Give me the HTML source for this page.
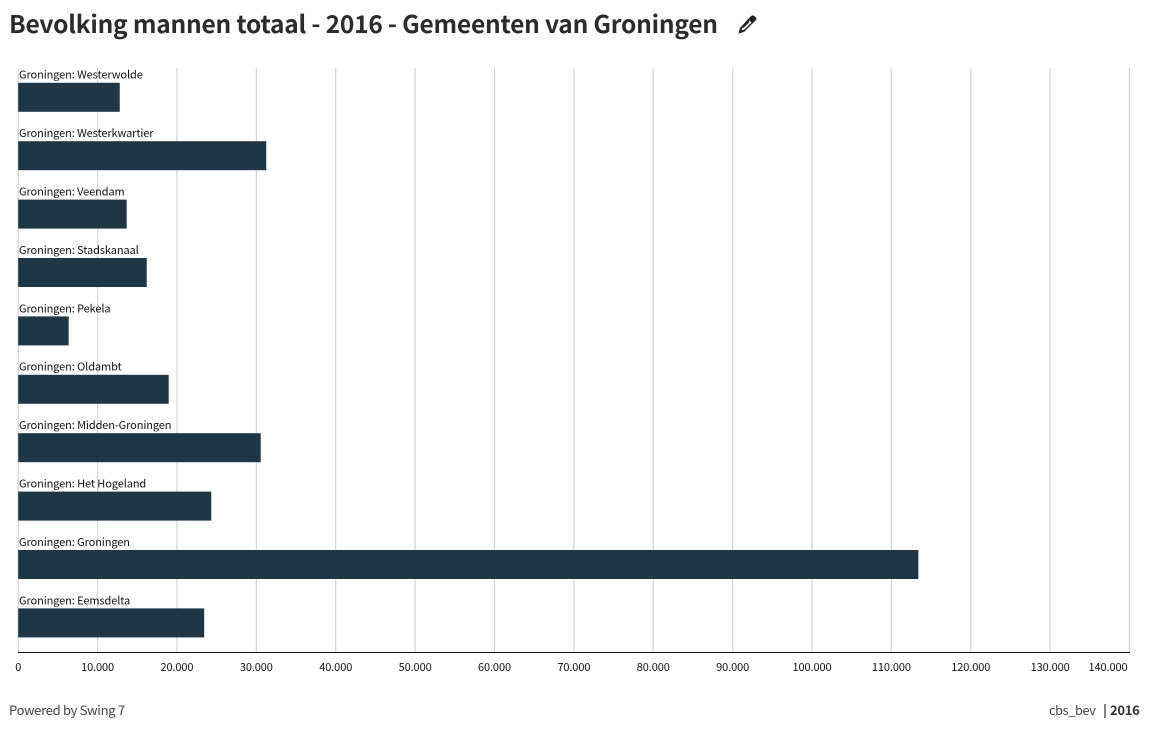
<!DOCTYPE html>
<html lang="nl">
<head>
<meta charset="utf-8">
<title>Bevolking mannen totaal - 2016 - Gemeenten van Groningen</title>
<style>
html,body{margin:0;padding:0;background:#fff;width:1173px;height:729px;overflow:hidden}
svg{display:block}
text{font-family:"Noto Sans CJK JP","Liberation Sans",sans-serif}
</style>
</head>
<body>
<svg id="chart" width="1173" height="729" viewBox="0 0 1173 729" xmlns="http://www.w3.org/2000/svg">
  <text x="9" y="33" font-size="24.5" letter-spacing="-0.21" font-weight="700" fill="#2b2b2b">Bevolking mannen totaal - 2016 - Gemeenten van Groningen</text>
  <g transform="translate(738,15)">
    <path d="M12.5 1.5 L17 6 L6 17 L0.5 18.5 L2 13 Z M11.5 5.5 L4.5 12.5 L3.5 15.5 L6.5 14.5 L13.5 7.5 Z" fill="#222" fill-rule="evenodd"/>
    <path d="M11.5 2.5 L14 0.5 Q15.5 0 17.5 2 Q19 3.5 18 5 L16 7 Z" fill="#222"/>
    <line x1="11" y1="6.5" x2="5" y2="12.5" stroke="#222" stroke-width="1.4"/>
  </g>
  <g id="grid"></g>
  <g id="bars"></g>
  <g id="labels"></g>
  <line x1="18" x2="1130" y1="652.5" y2="652.5" stroke="#111" stroke-width="1"/>
  <g id="ticks"></g>
  <text x="9" y="715" font-size="13" letter-spacing="-0.3" fill="#444">Powered by Swing 7</text>
  <text x="1049" y="715" font-size="12.8" letter-spacing="-0.4" fill="#444">cbs_bev</text>
  <line x1="1105" x2="1105" y1="704" y2="718" stroke="#2b2b2b" stroke-width="1.2"/>
  <text x="1110" y="715" font-size="13" letter-spacing="-0.3" font-weight="700" fill="#333">2016</text>
</svg>
<script>
const categories = ["Westerwolde","Westerkwartier","Veendam","Stadskanaal","Pekela","Oldambt","Midden-Groningen","Het Hogeland","Groningen","Eemsdelta"];
const values = [12790,31250,13670,16190,6360,18960,30550,24320,113400,23430];
const tickValues = [0,10000,20000,30000,40000,50000,60000,70000,80000,90000,100000,110000,120000,130000,140000];
const categoryPrefix = "Groningen: ";

const NS = "http://www.w3.org/2000/svg";
const xMax = 140000;
const plotLeft = 18.2, plotRight = 1129.5, plotTop = 68, plotBottom = 652;
const barHeight = 29;
function xScale(v){ return plotLeft + (v / xMax) * (plotRight - plotLeft); }
function bandTop(i){ return plotTop + i * (plotBottom - plotTop) / categories.length; }
function fmt(v){ return String(v).replace(/\B(?=(\d{3})+$)/g, "."); }
function mk(tag, attrs, parent){
  const el = document.createElementNS(NS, tag);
  for (const k in attrs) el.setAttribute(k, attrs[k]);
  parent.appendChild(el);
  return el;
}
const gridG = document.getElementById("grid");
const barsG = document.getElementById("bars");
const labelsG = document.getElementById("labels");
const ticksG = document.getElementById("ticks");

tickValues.forEach(function(t){
  const x = xScale(t);
  const line = mk("line", {x1:x, x2:x, y1:plotTop, y2:plotBottom, stroke:"#d4d4d4", "stroke-width":1.2}, gridG);
  
  
  const isLast = t === xMax;
  const label = mk("text", {x: isLast ? x - 2 : x, y:671, "font-size":11, "letter-spacing":-0.1, fill:"#111", "text-anchor": isLast ? "end" : "middle"}, ticksG);
  label.textContent = fmt(t);
  
  
});

categories.forEach(function(c, i){
  const top = bandTop(i);
  const bar = mk("rect", {x:xScale(0), y:top + 14.8, width:xScale(values[i]) - xScale(0), height:barHeight, fill:"#1f3646"}, barsG);
  
  
  const label = mk("text", {x:19, y:top + 10.7, "font-size":11, "letter-spacing":-0.1, fill:"#111"}, labelsG);
  label.textContent = categoryPrefix + c;
  
  
});
</script>
</body>
</html>
